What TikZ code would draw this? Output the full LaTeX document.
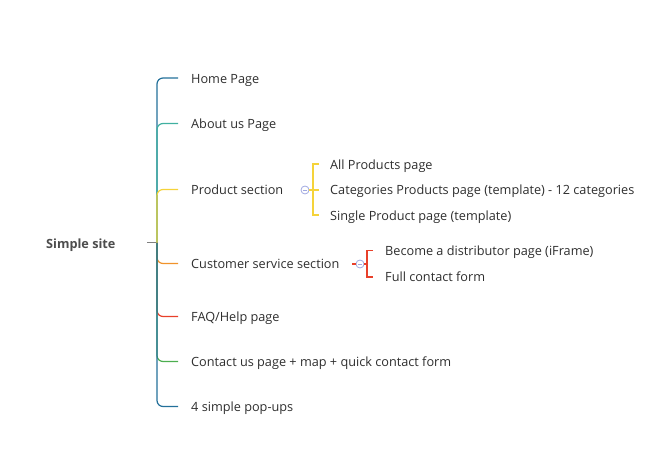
\documentclass[tikz,border=0pt]{standalone}
\usepackage{fontspec}
\setmainfont{Open Sans}
\definecolor{cblue}{HTML}{23709A}
\definecolor{cteal}{HTML}{3FB0A0}
\definecolor{cyellow}{HTML}{F5D33A}
\definecolor{corange}{HTML}{F0932B}
\definecolor{cred}{HTML}{E8402A}
\definecolor{cgreen}{HTML}{4CAE4F}
\definecolor{ctext}{HTML}{2E2E2E}
\definecolor{ccirc}{HTML}{A0A8E0}
\begin{document}
\begin{tikzpicture}[x=1pt,y=-1pt,
  lbl/.style={anchor=base west,inner sep=0pt,text=ctext,font=\fontsize{12.7}{15}\selectfont},
  branch/.style={line width=1.2pt,rounded corners=6pt},
  sub/.style={line width=1.1pt},
  collapse/.style={circle,draw=ccirc,line width=0.8pt,minimum size=8pt,inner sep=0pt,fill=white}]
\useasboundingbox (0,0) rectangle (670,454);
\node[lbl,font=\fontsize{12.7}{15}\selectfont\bfseries,text=ctext!85] (root) at (46,248.5) {Simple site};
\coordinate (J) at (157,243);
\draw[gray,line width=1pt] (147,243) -- (J);
% branch text nodes
\node[lbl] (home) at (191,83.5) {Home Page};
\node[lbl] (about) at (191,129) {About us Page};
\node[lbl] (prod) at (191,195) {Product section};
\node[lbl] (cust) at (191,269) {Customer service section};
\node[lbl] (faq) at (191,322) {FAQ/Help page};
\node[lbl] (cont) at (191,367) {Contact us page + map + quick contact form};
\node[lbl] (pop) at (191,412) {4 simple pop-ups};
% branch ends
\coordinate (eh) at (178,78);
\coordinate (ea) at (178,123.5);
\coordinate (ep) at (178,189.5);
\coordinate (ec) at (178,263.5);
\coordinate (ef) at (178,316.5);
\coordinate (en) at (178,361.5);
\coordinate (eo) at (178,406.5);
\draw[branch,cblue] (J) |- (eh);
\draw[branch,cteal] (J) |- (ea);
\draw[branch,cyellow] (J) |- (ep);
\draw[branch,corange] (J) |- (ec);
\draw[branch,cred] (J) |- (ef);
\draw[branch,cgreen] (J) |- (en);
\draw[branch,cblue] (J) |- (eo);
% product sub-branches
\node[lbl] (p1) at (330,169.5) {All Products page};
\node[lbl] (p2) at (330,195) {Categories Products page (template) - 12 categories};
\node[lbl] (p3) at (330,220.5) {Single Product page (template)};
\node[collapse] (pc) at (305,190) {};
\coordinate (pb1) at (313,164);
\coordinate (pb2) at (313,190);
\coordinate (pb3) at (313,215);
\draw[sub,cyellow] (pc.east) -- (pb2) -- (319,190);
\draw[sub,cyellow] (319,164) -- (pb1) -- (pb3) -- (319,215);
\draw[line width=0.8pt,ccirc] ([xshift=-2pt]pc.center) -- ([xshift=2pt]pc.center);
% customer sub-branches
\node[lbl] (c1) at (385,256) {Become a distributor page (iFrame)};
\node[lbl] (c2) at (385,282) {Full contact form};
\node[collapse] (cc) at (360,264) {};
\coordinate (cs) at (352,264);
\coordinate (cb1) at (367,250.5);
\coordinate (cb2) at (367,277);
\draw[sub,cred] (cs) -- (cc.west);
\draw[sub,cred] (cc.east) -- (367,264);
\draw[sub,cred] (373,250.5) -- (cb1) -- (cb2) -- (373,277);
\draw[line width=0.8pt,ccirc] ([xshift=-2pt]cc.center) -- ([xshift=2pt]cc.center);
\end{tikzpicture}
\end{document}
